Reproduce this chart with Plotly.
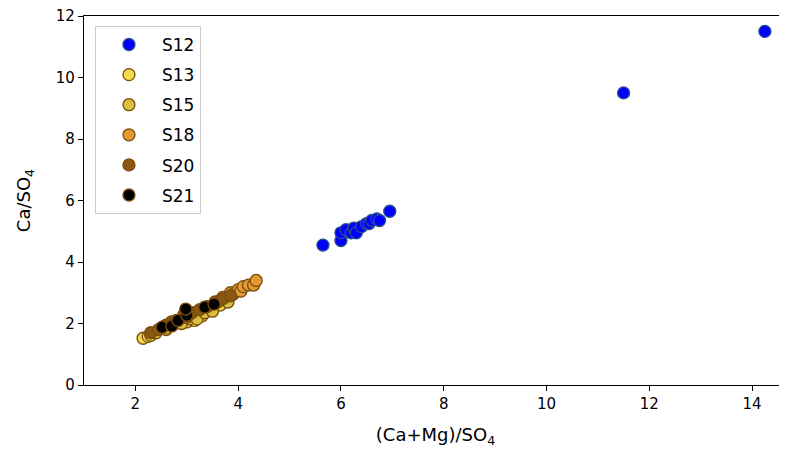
import plotly.graph_objects as go

series_names = ["S12", "S13", "S15", "S18", "S20", "S21"]

s12_x = [5.65, 6.0, 6.0, 6.1, 6.2, 6.25, 6.3, 6.4, 6.5, 6.55, 6.6, 6.7, 6.75, 6.95, 11.5, 14.25]
s12_y = [4.55, 4.7, 4.95, 5.05, 4.95, 5.1, 4.95, 5.15, 5.25, 5.25, 5.35, 5.4, 5.35, 5.65, 9.5, 11.5]

s13_x = [2.15, 2.25, 2.3, 2.6, 3.0, 3.15, 3.3, 3.65]
s13_y = [1.52, 1.58, 1.62, 1.8, 2.05, 2.1, 2.25, 2.6]

s15_x = [2.4, 2.6, 2.9, 3.05, 3.2, 3.35, 3.5, 3.8]
s15_y = [1.7, 1.85, 2.0, 2.15, 2.15, 2.35, 2.4, 2.7]

s18_x = [3.6, 3.7, 3.85, 3.9, 4.0, 4.05, 4.1, 4.2, 4.3, 4.35]
s18_y = [2.7, 2.85, 3.0, 2.95, 3.1, 3.05, 3.2, 3.25, 3.25, 3.4]

s20_x = [2.3, 2.45, 2.6, 2.7, 2.8, 2.95, 3.0, 3.1, 3.25, 3.4, 3.55, 3.7, 3.85]
s20_y = [1.7, 1.8, 1.95, 2.05, 2.1, 2.3, 2.2, 2.35, 2.45, 2.55, 2.7, 2.8, 2.9]

s21_x = [2.52, 2.71, 2.83, 3.0, 2.98, 3.35, 3.53]
s21_y = [1.88, 1.92, 2.1, 2.27, 2.47, 2.53, 2.63]

xs = [s12_x, s13_x, s15_x, s18_x, s20_x, s21_x]
ys = [s12_y, s13_y, s15_y, s18_y, s20_y, s21_y]
fills = ["#0000ff", "#f2da4c", "#d8bf3e", "#e49a32", "#8a5812", "#000000"]
edges = ["#284c8c", "#7a4c0c", "#7a4c0c", "#7a4c0c", "#7a4c0c", "#7a4c0c"]

fig = go.Figure()
for name, x, y, fc, ec in zip(series_names, xs, ys, fills, edges):
    fig.add_trace(go.Scatter(
        x=x, y=y, mode="markers", name=name, legendgroup=name,
        marker=dict(size=12, color=fc, line=dict(color=ec, width=1.3)),
    ))

font = dict(family="DejaVu Sans", size=15, color="black")
fig.update_layout(
    width=779, height=448,
    margin=dict(l=76, r=0, t=8, b=71),
    paper_bgcolor="white", plot_bgcolor="white",
    font=font,
    showlegend=True,
    legend=dict(
        x=0.0156, y=0.973, xanchor="left", yanchor="top",
        bgcolor="white", bordercolor="#cccccc", borderwidth=1,
        font=dict(family="DejaVu Sans", size=17, color="black"),
        itemwidth=56, tracegroupgap=5,
        entrywidth=110, entrywidthmode="pixels",
    ),
    xaxis=dict(
        range=[1.0, 14.68], tickvals=[2, 4, 6, 8, 10, 12, 14], automargin=False,
        showgrid=False, zeroline=False, showline=True, linecolor="black",
        linewidth=1.2, mirror=True, ticks="outside", ticklen=5,
        tickcolor="black", ticklabeloverflow="allow",
        title=dict(text="(Ca+Mg)/SO<sub>4</sub>", standoff=16),
    ),
    yaxis=dict(
        range=[0, 12], tickvals=[0, 2, 4, 6, 8, 10, 12], automargin=False,
        showgrid=False, zeroline=False, showline=True, linecolor="black",
        linewidth=1.2, mirror=False, ticks="outside", ticklen=5,
        tickcolor="black", ticklabeloverflow="allow",
        title=dict(text="Ca/SO<sub>4</sub>", standoff=20),
    ),
)

fig.write_html("out.html")
